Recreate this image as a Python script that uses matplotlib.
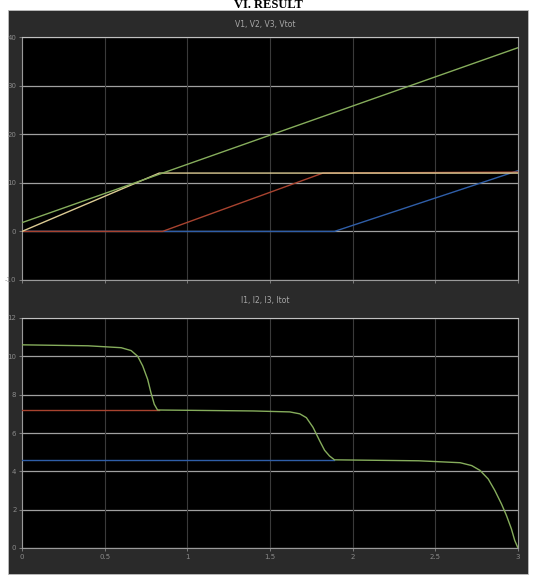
import matplotlib
matplotlib.use("Agg")
import matplotlib.pyplot as plt
from matplotlib.patches import Rectangle

# ---- data ----
time_ticks = [0, 0.5, 1, 1.5, 2, 2.5, 3]
time_tick_labels = ["0", "0.5", "1", "1.5", "2", "2.5", "3"]
volt_ticks = [-10, 0, 10, 20, 30, 40]
curr_ticks = [0, 2, 4, 6, 8, 10, 12]

v1_t = [0, 0.83, 3.0]
v1_v = [0, 12.0, 12.0]
v2_t = [0, 0.85, 1.82, 3.0]
v2_v = [0, 0, 12.0, 12.2]
v3_t = [0, 1.89, 3.0]
v3_v = [0, 0, 12.5]
vtot_t = [0, 3.0]
vtot_v = [1.8, 37.8]

i1_t = [0, 0.83]
i1_v = [7.2, 7.2]
i2_t = [0, 1.89]
i2_v = [4.6, 4.6]
itot_t = [0, 0.40, 0.60, 0.66, 0.70, 0.73, 0.76, 0.78, 0.80, 0.82,
          1.40, 1.62, 1.68, 1.72, 1.76, 1.80, 1.83, 1.86, 1.89,
          2.40, 2.65, 2.72, 2.77, 2.82, 2.86, 2.90, 2.93, 2.96, 2.98, 3.0]
itot_v = [10.6, 10.55, 10.45, 10.3, 10.0, 9.5, 8.8, 8.1, 7.5, 7.2,
          7.15, 7.1, 7.0, 6.8, 6.3, 5.6, 5.1, 4.8, 4.6,
          4.55, 4.45, 4.3, 4.05, 3.6, 3.0, 2.3, 1.7, 1.0, 0.4, 0.0]

# ---- styling ----
W, H = 536, 579
fig = plt.figure(figsize=(W / 100, H / 100), dpi=100, facecolor="white")

def fx(px):
    return px / W

def fy(py):
    return 1 - py / H

panel_col = "#2a2a2a"
fig.patches.append(Rectangle((fx(8), fy(574)), fx(520), 564 / H,
                             transform=fig.transFigure, facecolor=panel_col,
                             edgecolor="#bdbdbd", lw=0.6, zorder=-10))

fig.text(0.5, fy(5), "VI. RESULT", ha="center", va="center",
         fontsize=9, fontweight="bold", family="Liberation Serif", color="black")

c_y = "#dccb94"
c_r = "#a8432f"
c_b = "#2f5ea8"
c_g = "#86ad5c"

def style(ax, yticks, show_xlabels):
    ax.set_facecolor("black")
    ax.set_xlim(0, 3)
    ax.set_ylim(yticks[0], yticks[-1])
    ax.set_xticks(time_ticks)
    ax.set_yticks(yticks)
    ax.set_yticklabels([str(t) for t in yticks])
    if show_xlabels:
        ax.set_xticklabels(time_tick_labels)
    else:
        ax.set_xticklabels([])
    ax.tick_params(colors="#8a8a8a", labelsize=5, length=2, width=0.6, pad=2)
    for s in ax.spines.values():
        s.set_color("#9a9a9a")
        s.set_linewidth(0.8)
    ax.spines["top"].set_color("#c0c0c0")
    for t in yticks:
        ax.axhline(t, color="#a0a0a0", lw=0.9, zorder=1)
    for t in time_ticks:
        ax.axvline(t, color="#3a3a3a", lw=0.8, zorder=1)

ax1 = fig.add_axes([fx(22), fy(280), fx(496), 243 / H])
ax1.set_zorder(2)
style(ax1, volt_ticks, False)
ax1.plot(v3_t, v3_v, color=c_b, lw=1.0, zorder=3)
ax1.plot(v2_t, v2_v, color=c_r, lw=1.0, zorder=3)
ax1.plot(v1_t, v1_v, color=c_y, lw=1.0, zorder=4)
ax1.plot(vtot_t, vtot_v, color=c_g, lw=1.0, zorder=5)
fig.text(fx(265), fy(24), "V1, V2, V3, Vtot", ha="center", va="center",
         fontsize=5.5, color="#a8a8a8")

ax2 = fig.add_axes([fx(22), fy(548), fx(496), 230 / H])
ax2.set_zorder(2)
style(ax2, curr_ticks, True)
ax2.plot(i2_t, i2_v, color=c_b, lw=1.0, zorder=3)
ax2.plot(i1_t, i1_v, color=c_r, lw=1.0, zorder=3)
ax2.plot(itot_t, itot_v, color=c_g, lw=1.0, zorder=5)
fig.text(fx(265), fy(300), "I1, I2, I3, Itot", ha="center", va="center",
         fontsize=5.5, color="#a8a8a8")

fig.savefig("out.png", dpi=100, facecolor="white")
